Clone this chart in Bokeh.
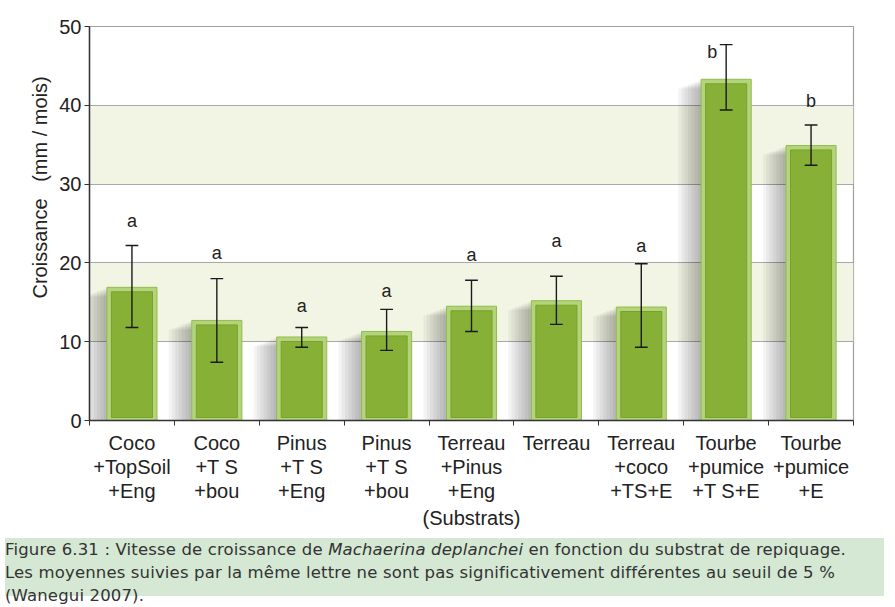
from bokeh.plotting import figure
from bokeh.models import Range1d, FixedTicker, ColumnDataSource, Div, Title
from bokeh.layouts import column
from bokeh.embed import file_html
from bokeh.resources import INLINE

# ---------------- data ----------------
categories = ["Coco\n+TopSoil\n+Eng", "Coco\n+T S\n+bou", "Pinus\n+T S\n+Eng",
              "Pinus\n+T S\n+bou", "Terreau\n+Pinus\n+Eng", "Terreau",
              "Terreau\n+coco\n+TS+E", "Tourbe\n+pumice\n+T S+E", "Tourbe\n+pumice\n+E"]
means = [16.9, 12.7, 10.6, 11.3, 14.5, 15.2, 14.4, 43.3, 34.9]
err_low = [11.8, 7.4, 9.3, 8.9, 11.3, 12.2, 9.3, 39.4, 32.4]
err_high = [22.2, 18.0, 11.8, 14.1, 17.8, 18.3, 19.9, 47.7, 37.5]
letters = ["a", "a", "a", "a", "a", "a", "a", "b", "b"]
letter_y = [25.3, 21.3, 14.5, 16.4, 21.0, 22.8, 22.1, 46.8, 40.6]
letter_dx = [0, 0, 0, 0, 0, 0, 0, -0.165, 0]
y_ticks = [0, 10, 20, 30, 40, 50]

n = len(categories)
xs = [i + 0.5 for i in range(n)]
BW = 0.59
FONT = "Liberation Sans"

p = figure(width=879, height=533, output_backend="svg", toolbar_location=None,
           x_range=Range1d(0, n), y_range=Range1d(0, 50),
           min_border_left=89, min_border_right=26, min_border_top=26, min_border_bottom=113)
p.background_fill_color = "white"
p.border_fill_color = "white"
p.outline_line_color = "#a0a0a0"
p.outline_line_width = 1.2

# grid with bands
p.xgrid.visible = False
p.ygrid.ticker = FixedTicker(ticks=y_ticks)
p.ygrid.grid_line_color = "#a8a8a8"
p.ygrid.grid_line_width = 1.2
p.ygrid.band_fill_color = "#f2f5e4"
p.ygrid.band_fill_alpha = 1.0

# y axis
ya = p.yaxis[0]
ya.ticker = FixedTicker(ticks=y_ticks)
ya.axis_line_color = "#333333"
ya.axis_line_width = 1.5
ya.major_tick_line_color = "#333333"
ya.major_tick_out = 5
ya.major_tick_in = 0
ya.minor_tick_line_color = None
ya.major_label_text_font = FONT
ya.major_label_text_font_size = "20px"
ya.major_label_text_color = "#222222"
ya.major_label_standoff = 3

# y axis title (left panel, shifted upward like the original)
p.add_layout(Title(text="Croissance\u00a0\u00a0\u00a0(mm / mois)", align="left", offset=122,
                   text_font=FONT, text_font_size="20px", text_font_style="normal",
                   text_color="#222222", standoff=12), "left")

# x axis
xa = p.xaxis[0]
xa.ticker = FixedTicker(ticks=xs, minor_ticks=list(range(n + 1)))
xa.major_label_overrides = {x: c for x, c in zip(xs, categories)}
xa.axis_line_color = "#333333"
xa.axis_line_width = 1.5
xa.major_tick_line_color = None
xa.major_tick_out = 0
xa.major_tick_in = 0
xa.minor_tick_line_color = "#333333"
xa.minor_tick_out = 5
xa.minor_tick_in = 0
xa.major_label_text_font = FONT
xa.major_label_text_font_size = "20px"
xa.major_label_text_color = "#222222"
xa.major_label_standoff = 6
xa.major_label_text_line_height = 1.1
xa.axis_label = "(Substrats)"
xa.axis_label_text_font = FONT
xa.axis_label_text_font_size = "20px"
xa.axis_label_text_font_style = "normal"
xa.axis_label_text_color = "#222222"
xa.axis_label_standoff = 2

px = 1.0 / 84.9
py = 50.0 / 394.0

src = ColumnDataSource(dict(x=xs, top=means, itop=[m - 4.5 * py for m in means],
                            low=err_low, high=err_high,
                            lx=[x + d for x, d in zip(xs, letter_dx)], ly=letter_y, lt=letters))

# soft shadow on the left of each bar
for k in range(1, 8):
    p.quad(left=[x - BW / 2 - k * 3.3 * px for x in xs],
           right=[x - BW / 2 + 2 * px for x in xs],
           top=[m - k * 1.3 * py for m in means], bottom=[0] * n,
           fill_color="black", fill_alpha=0.045, line_color=None)

# bars: light outer frame + darker inner face
p.vbar(x="x", top="top", bottom=0, width=BW, source=src,
       fill_color="#b4d47c", line_color="#93bb4e", line_width=1)
p.vbar(x="x", top="itop", bottom=3 * py, width=BW - 9 * px, source=src,
       fill_color="#86b036", line_color="#78a22c", line_width=1)

# error bars
p.segment(x0="x", y0="low", x1="x", y1="high", source=src, line_color="#1a1a1a", line_width=1.4)
cap = 0.075
p.segment(x0=[x - cap for x in xs], y0=err_high, x1=[x + cap for x in xs], y1=err_high,
          line_color="#1a1a1a", line_width=1.4)
p.segment(x0=[x - cap for x in xs], y0=err_low, x1=[x + cap for x in xs], y1=err_low,
          line_color="#1a1a1a", line_width=1.4)

# significance letters
p.text(x="lx", y="ly", text="lt", source=src, text_align="center", text_baseline="middle",
       text_font={"value": FONT}, text_font_size="18px", text_color="#222222")

caption = Div(
    text='Figure 6.31 : Vitesse de croissance de <i>Machaerina deplanchei</i> en fonction du substrat de repiquage.<br>'
         'Les moyennes suivies par la même lettre ne sont pas significativement différentes au seuil de 5 %<br>'
         '(Wanegui 2007).',
    width=879, height=58,
    styles={"background-color": "#d4e8d4", "font-family": "DejaVu Sans", "font-size": "16.5px",
            "line-height": "23px", "color": "#333333", "padding-top": "0px",
            "white-space": "nowrap", "letter-spacing": "0.15px"})

layout = column(p, caption, spacing=0)
open("out.html", "w").write(file_html(layout, INLINE))
